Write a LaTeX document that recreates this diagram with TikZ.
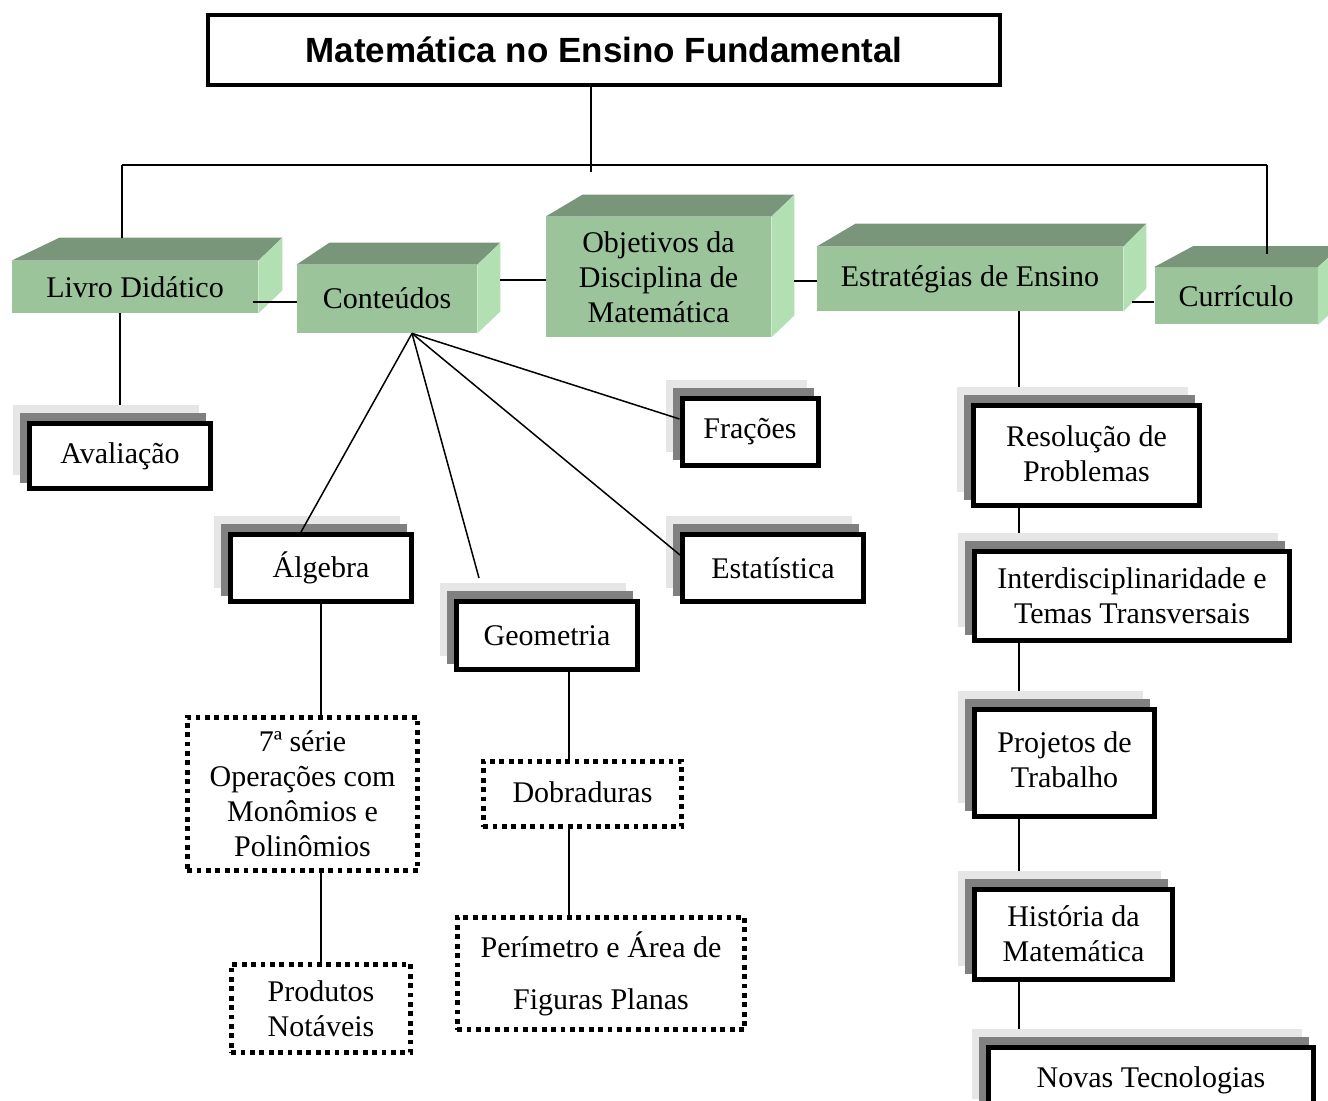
\documentclass[tikz,border=0pt]{standalone}
\usepackage{fontspec}
\setmainfont{Liberation Serif}
\newfontfamily\titlefont{Liberation Sans}
\usetikzlibrary{calc,shadows,backgrounds}

\definecolor{frente}{RGB}{155,196,155}
\definecolor{topo}{RGB}{121,150,122}
\definecolor{lado}{RGB}{178,224,178}
\definecolor{sombraclara}{RGB}{230,230,230}
\definecolor{sombraescura}{RGB}{128,128,128}

\tikzset{
  texto/.style={font=\fontsize{15}{17.5}\selectfont, align=center},
  bloco/.style={texto, fill=frente, inner sep=0pt},
  caixa/.style={texto, draw, line width=2.5pt, fill=white, inner sep=2pt,
    general shadow={fill=sombraclara, draw=sombraclara, shadow xshift=-7pt, shadow yshift=8pt},
    general shadow={fill=sombraescura, draw=sombraescura, shadow xshift=-3.5pt, shadow yshift=4pt}},
  pontilhado/.style={texto, draw, line width=2.5pt, dash pattern=on 2.4pt off 2.3pt, fill=white, inner sep=2pt},
  liga/.style={line width=0.75pt}
}

% topo e lado dos blocos verdes
\newcommand{\ladosbloco}[4]{%
  \fill[topo] (#1.north west) -- ($(#1.north west)+(#2,-#4)$) -- ($(#1.north east)+(#3,-#4)$) -- (#1.north east) -- cycle;
  \fill[lado] (#1.north east) -- ($(#1.north east)+(#3,-#4)$) -- ($(#1.south east)+(#3,-#4)$) -- (#1.south east) -- cycle;
}

\begin{document}
\begin{tikzpicture}[x=0.5pt, y=-0.5pt]
\useasboundingbox (0,0) rectangle (1328,1101);
\clip (0,0) rectangle (1328,1101);

% titulo
\node[draw, line width=2pt, minimum width=396pt, minimum height=35pt,
  font=\fontsize{17.5}{20}\titlefont\bfseries] (titulo) at (604,50) {Matemática no Ensino Fundamental};

% blocos verdes
\node[bloco, minimum width=123pt, minimum height=26pt] (livro) at (135,287) {\raisebox{-1.5pt}{Livro Didático}};
\node[bloco, minimum width=90pt, minimum height=34pt] (conteudos) at (387,299) {\raisebox{1pt}{Conteúdos}};
\node[bloco, minimum width=112.5pt, minimum height=60pt] (objetivos) at (658.5,277) {Objetivos da\\Disciplina de\\Matemática};
\node[bloco, minimum width=153pt, minimum height=32pt] (estrategias) at (970,279) {Estratégias de Ensino};
\node[bloco, minimum width=81.5pt, minimum height=28.5pt] (curriculo) at (1236,296) {\raisebox{-1pt}{Currículo}};
\ladosbloco{livro}{48}{24}{23}
\ladosbloco{conteudos}{33}{23}{22}
\ladosbloco{objetivos}{37}{23}{22}
\ladosbloco{estrategias}{39}{23}{23}
\ladosbloco{curriculo}{39}{23}{21}

% caixas com sombra
\node[caixa, minimum width=90.5pt, minimum height=32.5pt] (avaliacao) at (120,456) {Avaliação};
\node[caixa, minimum width=68pt, minimum height=33.5pt] (fracoes) at (750,432) {Frações};
\node[caixa, minimum width=90.5pt, minimum height=33.5pt] (algebra) at (321,568) {Álgebra};
\node[caixa, minimum width=90.5pt, minimum height=34pt] (geometria) at (547,635.5) {Geometria};
\node[caixa, minimum width=90.5pt, minimum height=33.5pt] (estatistica) at (773,568) {Estatística};
\node[caixa, minimum width=113pt, minimum height=50pt] (resolucao) at (1086.5,455.5) {\raisebox{2pt}{Resolução de}\\\raisebox{2pt}{Problemas}};
\node[caixa, minimum width=157.5pt, minimum height=44.5pt] (interdisc) at (1132,596) {Interdisciplinaridade e\\Temas Transversais};
\node[caixa, minimum width=90pt, minimum height=53.5pt] (projetos) at (1064.5,763) {\raisebox{3pt}{Projetos de}\\\raisebox{3pt}{Trabalho}};
\node[caixa, minimum width=99pt, minimum height=45pt] (historia) at (1073.5,934) {História da\\Matemática};
\node[caixa, minimum width=162.5pt, minimum height=32.5pt] (novas) at (1151,1080) {\raisebox{1.5pt}{Novas Tecnologias}};

% caixas pontilhadas
\node[pontilhado, minimum width=115.3pt, minimum height=76.8pt] (serie) at (302.5,794) {7ª série\\Operações com\\Monômios e\\Polinômios};
\node[pontilhado, minimum width=89.8pt, minimum height=44.3pt] (produtos) at (321,1008.5) {Produtos\\Notáveis};
\node[pontilhado, minimum width=99.3pt, minimum height=32.8pt] (dobraduras) at (582.5,794) {\raisebox{2pt}{Dobraduras}};
\node[pontilhado, minimum width=143.8pt, minimum height=56.3pt] (perimetro) at (601,973.5) {Perímetro e Área de\\[8.5pt]Figuras Planas};

% ligacoes do titulo
\coordinate (tronco) at (591,165);
\coordinate (esq) at (122,165);
\coordinate (dir) at (1267,165);
\draw[liga] (titulo.south -| tronco) -- ([yshift=-3.5pt]tronco);
\draw[liga] (esq) -- (dir);
\draw[liga] (esq) -- ([yshift=11.5pt]esq |- livro.north);
\draw[liga] (dir) -- ([yshift=6.5pt]dir |- curriculo.north);

% ligacoes entre os blocos
\draw[liga] ([xshift=-2.5pt,yshift=-1.5pt]livro.east |- conteudos.west) -- ([yshift=-1.5pt]conteudos.west);
\draw[liga] ([yshift=-1.5pt]objetivos.west) -- ([xshift=11.5pt,yshift=-1.5pt]objetivos.west -| conteudos.east);
\draw[liga] ([xshift=11.5pt,yshift=-1pt]objetivos.east |- estrategias.west) -- ([yshift=-1pt]estrategias.west);
\draw[liga] ([xshift=4.5pt,yshift=-3pt]estrategias.east |- curriculo.west) -- ([yshift=-3pt]curriculo.west);

% conteudos
\draw[liga] ([xshift=12.5pt]conteudos.south) -- ([xshift=-10pt]algebra.north);
\draw[liga] ([xshift=12.5pt]conteudos.south) -- ([xshift=-34pt,yshift=10.5pt]geometria.north);
\draw[liga] ([xshift=12.5pt]conteudos.south) -- ([yshift=6.5pt]estatistica.west);
\draw[liga] ([xshift=12.5pt]conteudos.south) -- ([yshift=6.5pt]fracoes.west);

% ramos verticais
\coordinate (eixoE) at (1019,0);
\coordinate (eixoG) at (569,0);
\begin{scope}[on background layer]
\draw[liga] (avaliacao.north |- livro.south) -- (avaliacao.north);
\draw[liga] (estrategias.south -| eixoE) -- (resolucao.north -| eixoE);
\draw[liga] (resolucao.south -| eixoE) -- (interdisc.north -| eixoE);
\draw[liga] (interdisc.south -| eixoE) -- (projetos.north -| eixoE);
\draw[liga] (projetos.south -| eixoE) -- (historia.north -| eixoE);
\draw[liga] (historia.south -| eixoE) -- (novas.north -| eixoE);
\end{scope}
\draw[liga] (algebra.south) -- (algebra.south |- serie.north);
\draw[liga] (produtos.north |- serie.south) -- (produtos.north);
\draw[liga] (geometria.south -| eixoG) -- (dobraduras.north -| eixoG);
\draw[liga] (dobraduras.south -| eixoG) -- (perimetro.north -| eixoG);

\end{tikzpicture}
\end{document}
